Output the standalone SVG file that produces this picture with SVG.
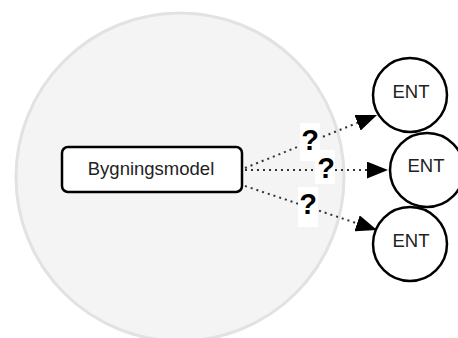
<svg xmlns="http://www.w3.org/2000/svg" width="458" height="338" viewBox="0 0 458 338">
<style>
.ent{fill:#fff;stroke:#000;stroke-width:2.5}
.lbl{font-family:"Liberation Sans",Arial,sans-serif;font-size:18.5px;fill:#222;text-anchor:middle}
.q{font-family:"Liberation Sans",Arial,sans-serif;font-weight:bold;font-size:29px;fill:#000;text-anchor:middle}
.edge{fill:none;stroke:#333;stroke-width:2;stroke-dasharray:2 4}
</style>
<defs>
<marker id="arrow" viewBox="0 0 20 16" refX="20" refY="8" markerWidth="21" markerHeight="17" markerUnits="userSpaceOnUse" orient="auto">
<path d="M0,0 L20,8 L0,16 Z" fill="#000"/>
</marker>
</defs>
<rect width="458" height="338" fill="#fff"/>
<g id="scope">
<circle cx="180" cy="177" r="164" fill="#f4f4f4" stroke="#e2e2e2" stroke-width="3"/>
</g>
<g id="connectors">
<line class="edge" x1="245" y1="168" x2="377" y2="115" marker-end="url(#arrow)"/>
<line class="edge" x1="245" y1="170" x2="388" y2="170" marker-end="url(#arrow)"/>
<line class="edge" x1="245" y1="186" x2="377" y2="230" marker-end="url(#arrow)"/>
<rect x="300" y="123" width="20" height="38" fill="#fff"/>
<rect x="315" y="150" width="20" height="34" fill="#fff"/>
<rect x="298" y="187" width="20" height="40" fill="#fff"/>
<text class="q" x="310" y="150">?</text>
<text class="q" x="326" y="178">?</text>
<text class="q" x="308" y="214">?</text>
</g>
<g id="bygningsmodel">
<rect x="62" y="147" width="180" height="45" rx="6" fill="#fff" stroke="#000" stroke-width="2.5"/>
<text class="lbl" x="151" y="175">Bygningsmodel</text>
</g>
<g id="ent1">
<circle class="ent" cx="410" cy="95" r="37"/>
<text class="lbl" x="411" y="98">ENT</text>
</g>
<g id="ent2">
<circle class="ent" cx="427" cy="170" r="37"/>
<text class="lbl" x="426" y="172">ENT</text>
</g>
<g id="ent3">
<circle class="ent" cx="410" cy="244" r="37"/>
<text class="lbl" x="411" y="247">ENT</text>
</g>
</svg>
